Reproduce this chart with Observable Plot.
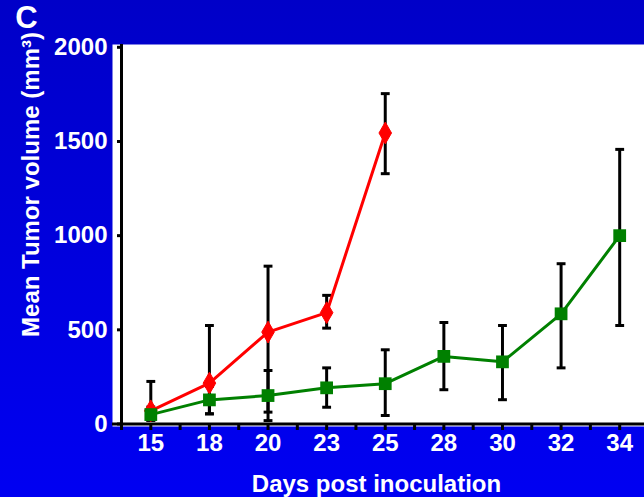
<!DOCTYPE html>
<html><head><meta charset="utf-8">
<script src="https://cdn.jsdelivr.net/npm/d3@7"></script>
<script src="https://cdn.jsdelivr.net/npm/@observablehq/plot@0.6"></script>
<style>
html,body{margin:0;padding:0;}
body{width:644px;height:497px;overflow:hidden;background:linear-gradient(to bottom,#0000c8,#0000f2);}
</style></head><body><div id="chart"></div>
<script>
// x categories (days post inoculation)
const days = [15, 18, 20, 23, 25, 28, 30, 32, 34];
// control group (red diamonds), days 15..25
const controlMean = [70, 217, 488, 591, 1545];
const controlHi   = [226, 523, 838, 683, 1754];
const controlLo   = [20, 54, 63, 509, 1329];
// treated group (green squares), days 15..34
const treatedMean = [50, 128, 151, 192, 214, 359, 330, 585, 1000];
const treatedHi   = [90, 200, 284, 298, 394, 539, 523, 851, 1458];
const treatedLo   = [20, 54, 18, 89, 45, 182, 129, 298, 523];
// y tick values
const yTicks = [0, 500, 1000, 1500, 2000];

const control = controlMean.map((m, i) => ({i, mean: m, lo: controlLo[i], hi: controlHi[i]}));
const treated = treatedMean.map((m, i) => ({i, mean: m, lo: treatedLo[i], hi: treatedHi[i]}));
const bars = [...control, ...treated];
const caps = bars.flatMap(d => [{i: d.i, v: d.hi}, {i: d.i, v: d.lo}]);
const idx = days.map((_, i) => i);
const halfTicks = d3.range(0, days.length * 2 + 1).map(k => k / 2 - 0.5);

const capSymbol = {draw(ctx, size) { const w = Math.sqrt(size); ctx.moveTo(-w / 2, 0); ctx.lineTo(w / 2, 0); }};

const font = {fontSize: 24, fontWeight: "bold", fill: "white"};

const chart = Plot.plot({
  width: 644, height: 497,
  marginLeft: 112, marginRight: 0, marginTop: 44, marginBottom: 71,
  style: {background: "none", fontFamily: "'Liberation Sans', Arial, sans-serif", fontWeight: "bold", overflow: "visible"},
  x: {type: "linear", domain: [-0.5, days.length - 0.5], range: [121, 648.5], axis: null},
  y: {domain: [0, 2000], range: [423.5, 46.8], axis: null},
  marks: [
    Plot.frame({fill: "white", stroke: null}),
    Plot.ruleY([0], {stroke: "black", strokeWidth: 3}),
    Plot.ruleX([-0.5], {stroke: "black", strokeWidth: 3}),
    Plot.axisX(halfTicks, {anchor: "bottom", tickSize: 7, dy: -3, stroke: "black", strokeWidth: 3, tickFormat: () => "", label: null}),
    Plot.axisX(idx, {anchor: "bottom", tickSize: 0, tickPadding: 7, tickFormat: i => String(days[i]), label: null, ...font}),
    Plot.axisY(yTicks, {anchor: "left", tickSize: 4, tickPadding: 10, dx: 9, stroke: "black", strokeWidth: 3, tickFormat: d => String(d), label: null, ...font}),
    Plot.ruleX(bars, {x: "i", y1: "lo", y2: "hi", stroke: "black", strokeWidth: 3}),
    Plot.dot(caps, {x: "i", y: "v", symbol: capSymbol, r: 5, stroke: "black", strokeWidth: 3, fill: "none"}),
    Plot.line(control, {x: "i", y: "mean", stroke: "#ff0000", strokeWidth: 3}),
    Plot.dot(control, {x: "i", y: "mean", symbol: "diamond", r: 6.6, fill: "#ff0000", stroke: "#ff0000", strokeWidth: 1}),
    Plot.line(treated, {x: "i", y: "mean", stroke: "#008000", strokeWidth: 3}),
    Plot.dot(treated, {x: "i", y: "mean", symbol: "square", r: 7.2, fill: "#008000", stroke: "none"}),
    Plot.text(["C"], {frameAnchor: "top-left", dx: -86, dy: -26, textAnchor: "middle", lineAnchor: "middle", fontSize: 31, fontWeight: "bold", fill: "white"}),
    Plot.text(["Mean Tumor volume (mm³)"], {frameAnchor: "left", dx: -81, dy: -51, rotate: -90, textAnchor: "middle", lineAnchor: "middle", ...font}),
    Plot.text(["Days post inoculation"], {frameAnchor: "bottom", dx: -2, dy: 58, textAnchor: "middle", lineAnchor: "middle", ...font})
  ]
});
document.getElementById("chart").appendChild(chart);
</script>
</body></html>
